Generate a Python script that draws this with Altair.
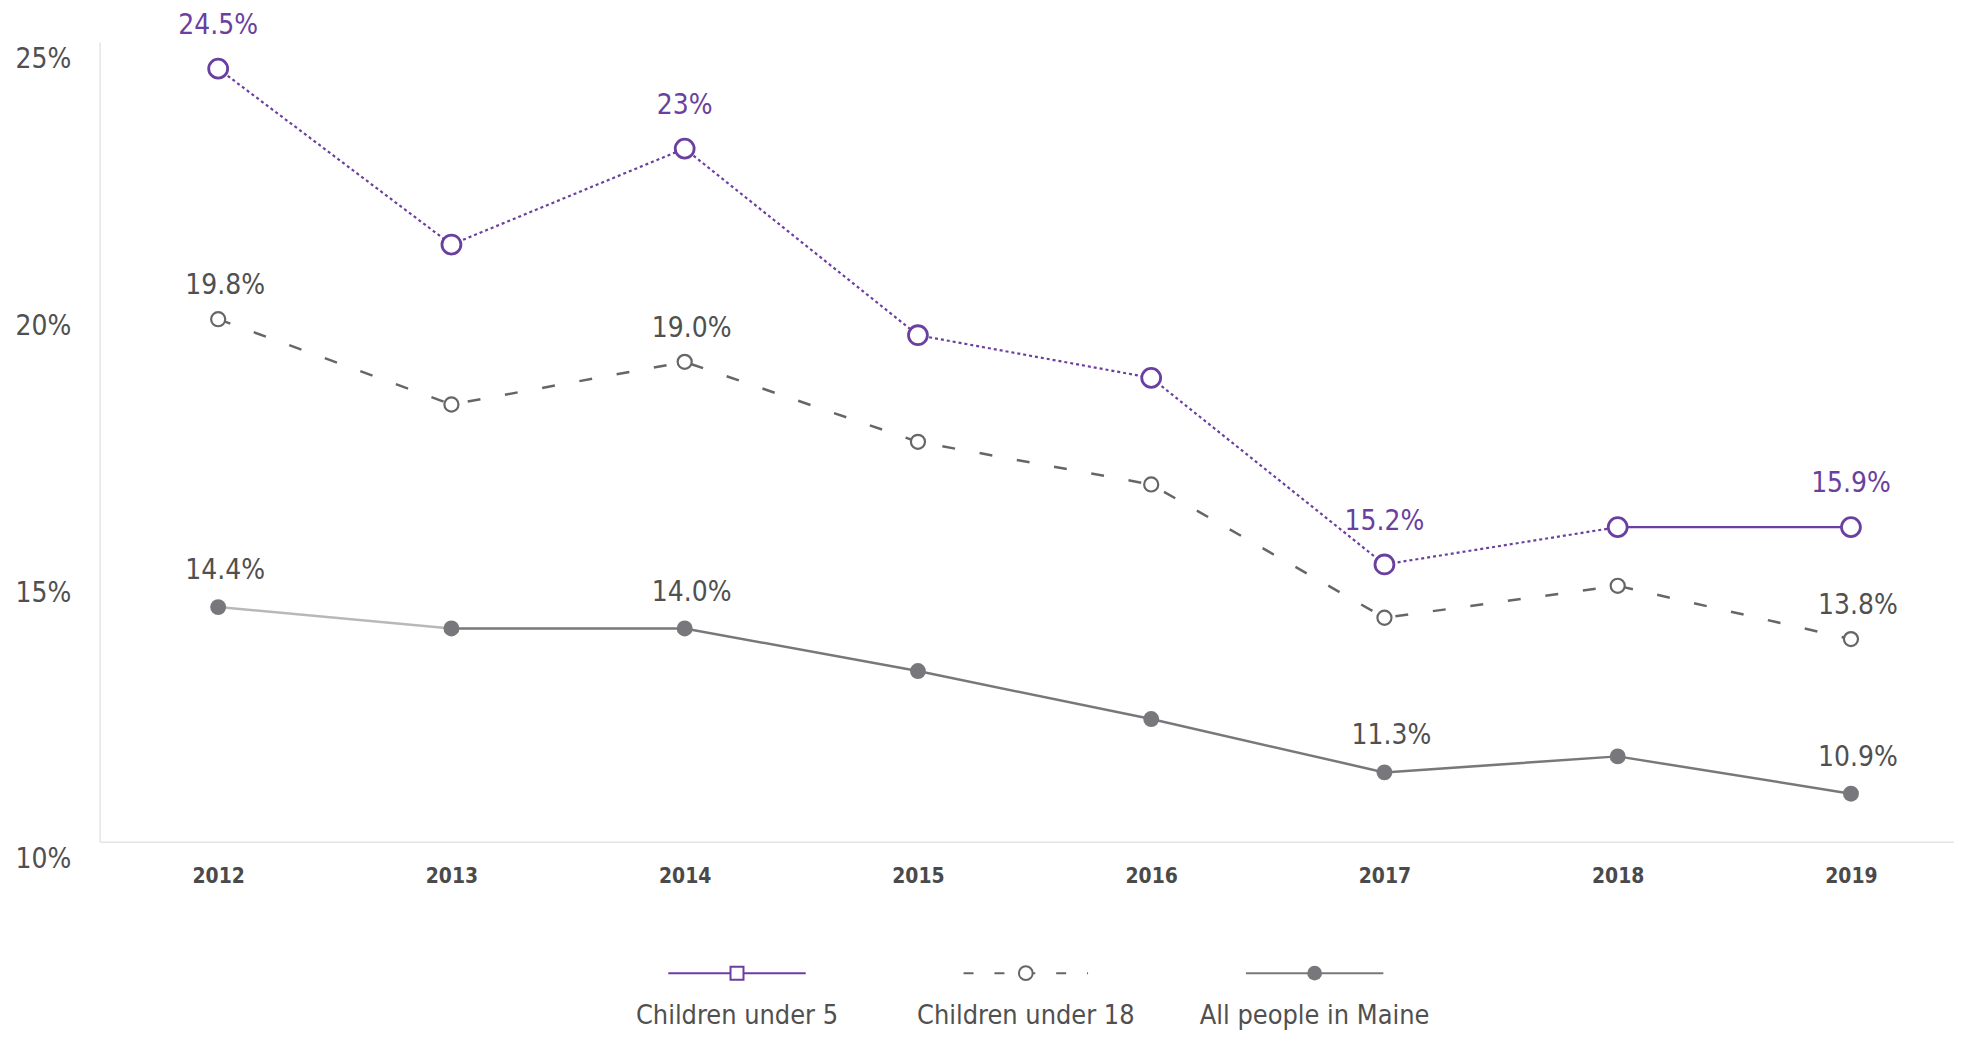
import altair as alt
import pandas as pd

# ---------------- data ----------------
years = [2012, 2013, 2014, 2015, 2016, 2017, 2018, 2019]
under5 = [24.5, 21.2, 23.0, 19.5, 18.7, 15.2, 15.9, 15.9]
under18 = [19.8, 18.2, 19.0, 17.5, 16.7, 14.2, 14.8, 13.8]
all_people = [14.4, 14.0, 14.0, 13.2, 12.3, 11.3, 11.6, 10.9]
series_names = ["Children under 5", "Children under 18", "All people in Maine"]
label_years_u5 = [2012, 2014, 2017, 2019]
label_years_u18 = [2012, 2014, 2019]
label_years_all = [2012, 2014, 2017, 2019]
y_ticks = [10, 15, 20, 25]

FONT = "Liberation Sans Narrow, DejaVu Sans Condensed, sans-serif"
PURPLE = "#6b3fa0"
GRAY_LINE = "#78787c"
GRAY_DASH = "#666666"
GRAY_LIGHT = "#b8b8b8"
TEXT_GRAY = "#505050"

rows = []
for name, vals, lyears in zip(series_names, [under5, under18, all_people],
                              [label_years_u5, label_years_u18, label_years_all]):
    for yr, v in zip(years, vals):
        lab = f"{v:g}%" if name == series_names[0] else f"{v:.1f}%"
        rows.append({"series": name, "year": yr, "value": v, "label": lab,
                     "show": yr in lyears})
df = pd.DataFrame(rows)


def seg(name, y0, y1, key):
    d = df[(df.series == name) & (df.year >= y0) & (df.year <= y1)].copy()
    d["seg"] = key
    return d


segdf = pd.concat([
    seg(series_names[0], 2012, 2018, "u5_dot"),
    seg(series_names[0], 2018, 2019, "u5_solid"),
    seg(series_names[1], 2012, 2019, "u18_dash"),
    seg(series_names[2], 2012, 2013, "all_light"),
    seg(series_names[2], 2013, 2019, "all_solid"),
])

labdf = df[df.show]

# ---------------- encodings ----------------
x = alt.X(
    "year:O",
    scale=alt.Scale(type="point", padding=0.475, align=0.535),
    axis=alt.Axis(
        title=None, labelAngle=0, ticks=False, domainColor="#e4e4e4", domainWidth=1.5,
        labelFont=FONT, labelFontSize=21, labelFontWeight="bold", labelColor="#4a4a4a",
        labelPadding=24,
    ),
)
y = alt.Y(
    "value:Q",
    scale=alt.Scale(domain=[10, 25], nice=False, zero=False),
    axis=alt.Axis(
        title=None, values=y_ticks, labelExpr="datum.value + '%'", grid=False, ticks=False,
        domainColor="#e4e4e4", domainWidth=1.5, labelFont=FONT, labelFontSize=28,
        labelColor=TEXT_GRAY, labelPadding=29, labelOffset=18,
    ),
)


def line_layer(key, color, width, dash=None):
    kw = dict(color=color, strokeWidth=width)
    if dash:
        kw["strokeDash"] = dash
    return alt.Chart(segdf).transform_filter(alt.datum.seg == key).mark_line(**kw).encode(x=x, y=y)


lines = [
    line_layer("u5_dot", PURPLE, 2.2, [3, 3]),
    line_layer("u5_solid", PURPLE, 2.2),
    line_layer("u18_dash", GRAY_DASH, 2.5, [13, 25]),
    line_layer("all_light", GRAY_LIGHT, 2.5),
    line_layer("all_solid", GRAY_LINE, 2.5),
]

base = alt.Chart(df)
pts_u5 = base.transform_filter(alt.datum.series == series_names[0]).mark_point(
    shape="circle", size=361, filled=True, fill="white", stroke=PURPLE, strokeWidth=2.8, opacity=1
).encode(x=x, y=y)
pts_u18 = base.transform_filter(alt.datum.series == series_names[1]).mark_point(
    shape="circle", size=200, filled=True, fill="white", stroke=GRAY_DASH, strokeWidth=2.2, opacity=1
).encode(x=x, y=y)
pts_all = base.transform_filter(alt.datum.series == series_names[2]).mark_point(
    shape="circle", size=256, filled=True, fill=GRAY_LINE, opacity=1
).encode(x=x, y=y)

labbase = alt.Chart(labdf)
lab_u5 = labbase.transform_filter(alt.datum.series == series_names[0]).mark_text(
    font=FONT, fontSize=28, color=PURPLE, dy=-43, align="center", baseline="middle"
).encode(x=x, y=y, text="label:N")
lab_u18 = labbase.transform_filter(alt.datum.series == series_names[1]).mark_text(
    font=FONT, fontSize=28, color=TEXT_GRAY, dy=-33, dx=7, align="center", baseline="middle"
).encode(x=x, y=y, text="label:N")
lab_all = labbase.transform_filter(alt.datum.series == series_names[2]).mark_text(
    font=FONT, fontSize=28, color=TEXT_GRAY, dy=-36, dx=7, align="center", baseline="middle"
).encode(x=x, y=y, text="label:N")

main = alt.layer(*lines, pts_u5, pts_u18, pts_all, lab_u5, lab_u18, lab_all)

# ---------------- legend (below the plot, own x scale) ----------------
legdf = pd.DataFrame({"series": series_names})
lx = alt.X("series:N", scale=alt.Scale(type="point", domain=series_names, range=[640, 1220], padding=0),
           axis=None)
lb = alt.Chart(legdf)
SYM_Y = 935
LAB_Y = 986

leg_layers = [
    lb.transform_filter(alt.datum.series == series_names[0]).mark_point(
        shape="stroke", size=138 ** 2, filled=False, stroke=PURPLE, strokeWidth=2, opacity=1
    ).encode(x=lx, y=alt.value(SYM_Y)),
    lb.transform_filter(alt.datum.series == series_names[1]).mark_point(
        shape="stroke", size=125 ** 2, filled=False, stroke=GRAY_DASH, strokeWidth=2,
        strokeDash=[10, 21], opacity=1
    ).encode(x=lx, y=alt.value(SYM_Y)),
    lb.transform_filter(alt.datum.series == series_names[2]).mark_point(
        shape="stroke", size=138 ** 2, filled=False, stroke=GRAY_LINE, strokeWidth=2, opacity=1
    ).encode(x=lx, y=alt.value(SYM_Y)),
    lb.transform_filter(alt.datum.series == series_names[0]).mark_point(
        shape="square", size=170, filled=True, fill="white", stroke=PURPLE, strokeWidth=2, opacity=1
    ).encode(x=lx, y=alt.value(SYM_Y)),
    lb.transform_filter(alt.datum.series == series_names[1]).mark_point(
        shape="circle", size=190, filled=True, fill="white", stroke=GRAY_DASH, strokeWidth=2, opacity=1
    ).encode(x=lx, y=alt.value(SYM_Y)),
    lb.transform_filter(alt.datum.series == series_names[2]).mark_point(
        shape="circle", size=220, filled=True, fill=GRAY_LINE, opacity=1
    ).encode(x=lx, y=alt.value(SYM_Y)),
    lb.mark_text(font=FONT, fontSize=27, color=TEXT_GRAY, align="center", baseline="alphabetic").encode(
        x=lx, y=alt.value(LAB_Y), text="series:N"
    ),
]
legend = alt.layer(*leg_layers)

chart = alt.layer(main, legend).resolve_scale(x="independent").properties(
    width=1862,
    height=803,
    autosize=alt.AutoSizeParams(type="none"),
    padding={"left": 92, "top": 32, "right": 0, "bottom": 191},
).configure_view(stroke=None)

chart.save("out.html", embed_options={"renderer": "svg", "actions": False})
